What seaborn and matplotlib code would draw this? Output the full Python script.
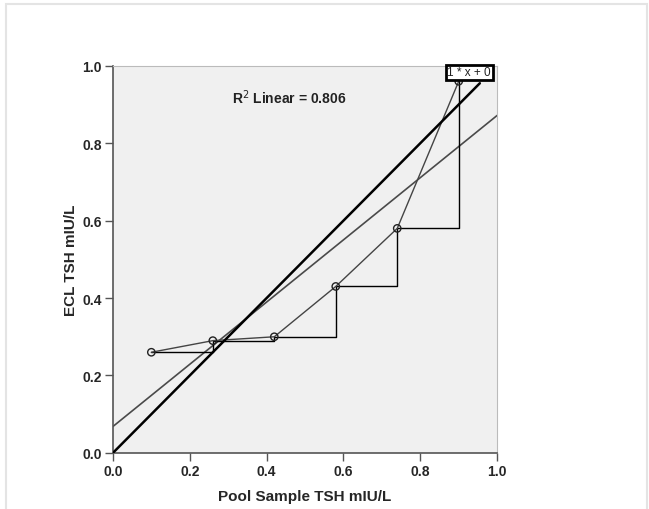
import matplotlib
matplotlib.use("Agg")
import matplotlib.pyplot as plt
import numpy as np
import pandas as pd
import seaborn as sns
from matplotlib.patches import Rectangle

# values
pool_tsh = [0.10, 0.26, 0.42, 0.58, 0.74, 0.90]
ecl_tsh = [0.26, 0.29, 0.30, 0.43, 0.58, 0.96]
ticks = [0.0, 0.2, 0.4, 0.6, 0.8, 1.0]
r2_label = "R$^2$ Linear = 0.806"

df = pd.DataFrame({"pool": pool_tsh, "ecl": ecl_tsh})

sns.set_style("white")
plt.rcParams["font.family"] = ["Liberation Sans", "DejaVu Sans"]

fig = plt.figure(figsize=(6.49, 5.10), dpi=100)
ax = fig.add_axes([0.174, 0.110, 0.592, 0.759])
ax.set_facecolor("#f0f0f0")

# outer chart frame
fig.patches.append(Rectangle((0.009, -0.02), 0.988, 1.01, transform=fig.transFigure,
                             fill=False, edgecolor="#e4e4e4", lw=1.5))

# identity reference line
ax.plot([0, 0.955], [0, 0.955], color="black", lw=1.8, zorder=3)

# linear fit
slope, intercept = np.polyfit(df["pool"], df["ecl"], 1)
xs = np.array([0.0, 1.0])
ax.plot(xs, intercept + slope * xs, color="#4a4a4a", lw=1.2, zorder=2)

# step line and connecting line
ax.plot(df["pool"], df["ecl"], drawstyle="steps-post", color="black", lw=1, zorder=2)
sns.lineplot(data=df, x="pool", y="ecl", color="#444444", lw=1, ax=ax, zorder=2)
ax.scatter(df["pool"], df["ecl"], s=28, facecolors="none", edgecolors="#222222",
           linewidths=1, zorder=4)

ax.text(0.31, 0.905, r2_label, fontsize=10, fontweight="bold", color="#222222")
ax.text(0.927, 0.983, "1 * x + 0", fontsize=8.5, ha="center", va="center",
        color="#222222", zorder=5,
        bbox=dict(boxstyle="square,pad=0.15", facecolor="white", edgecolor="black", lw=2))

ax.set_xlim(0, 1)
ax.set_ylim(0, 1)
ax.set_xticks(ticks)
ax.set_yticks(ticks)
ax.set_xticklabels(["%.1f" % t for t in ticks], fontweight="bold", fontsize=10)
ax.set_yticklabels(["%.1f" % t for t in ticks], fontweight="bold", fontsize=10)
ax.tick_params(axis="both", direction="out", length=6, width=1, color="#555555",
               bottom=True, left=True, pad=2)
for side in ["left", "bottom"]:
    ax.spines[side].set_color("#555555")
    ax.spines[side].set_linewidth(1.2)
for side in ["top", "right"]:
    ax.spines[side].set_color("#bbbbbb")
    ax.spines[side].set_linewidth(0.8)

ax.set_xlabel("Pool Sample TSH mIU/L", fontsize=11, fontweight="bold", labelpad=8)
ax.set_ylabel("ECL TSH mIU/L", fontsize=11, fontweight="bold", labelpad=3)

fig.savefig("out.png", dpi=100)
